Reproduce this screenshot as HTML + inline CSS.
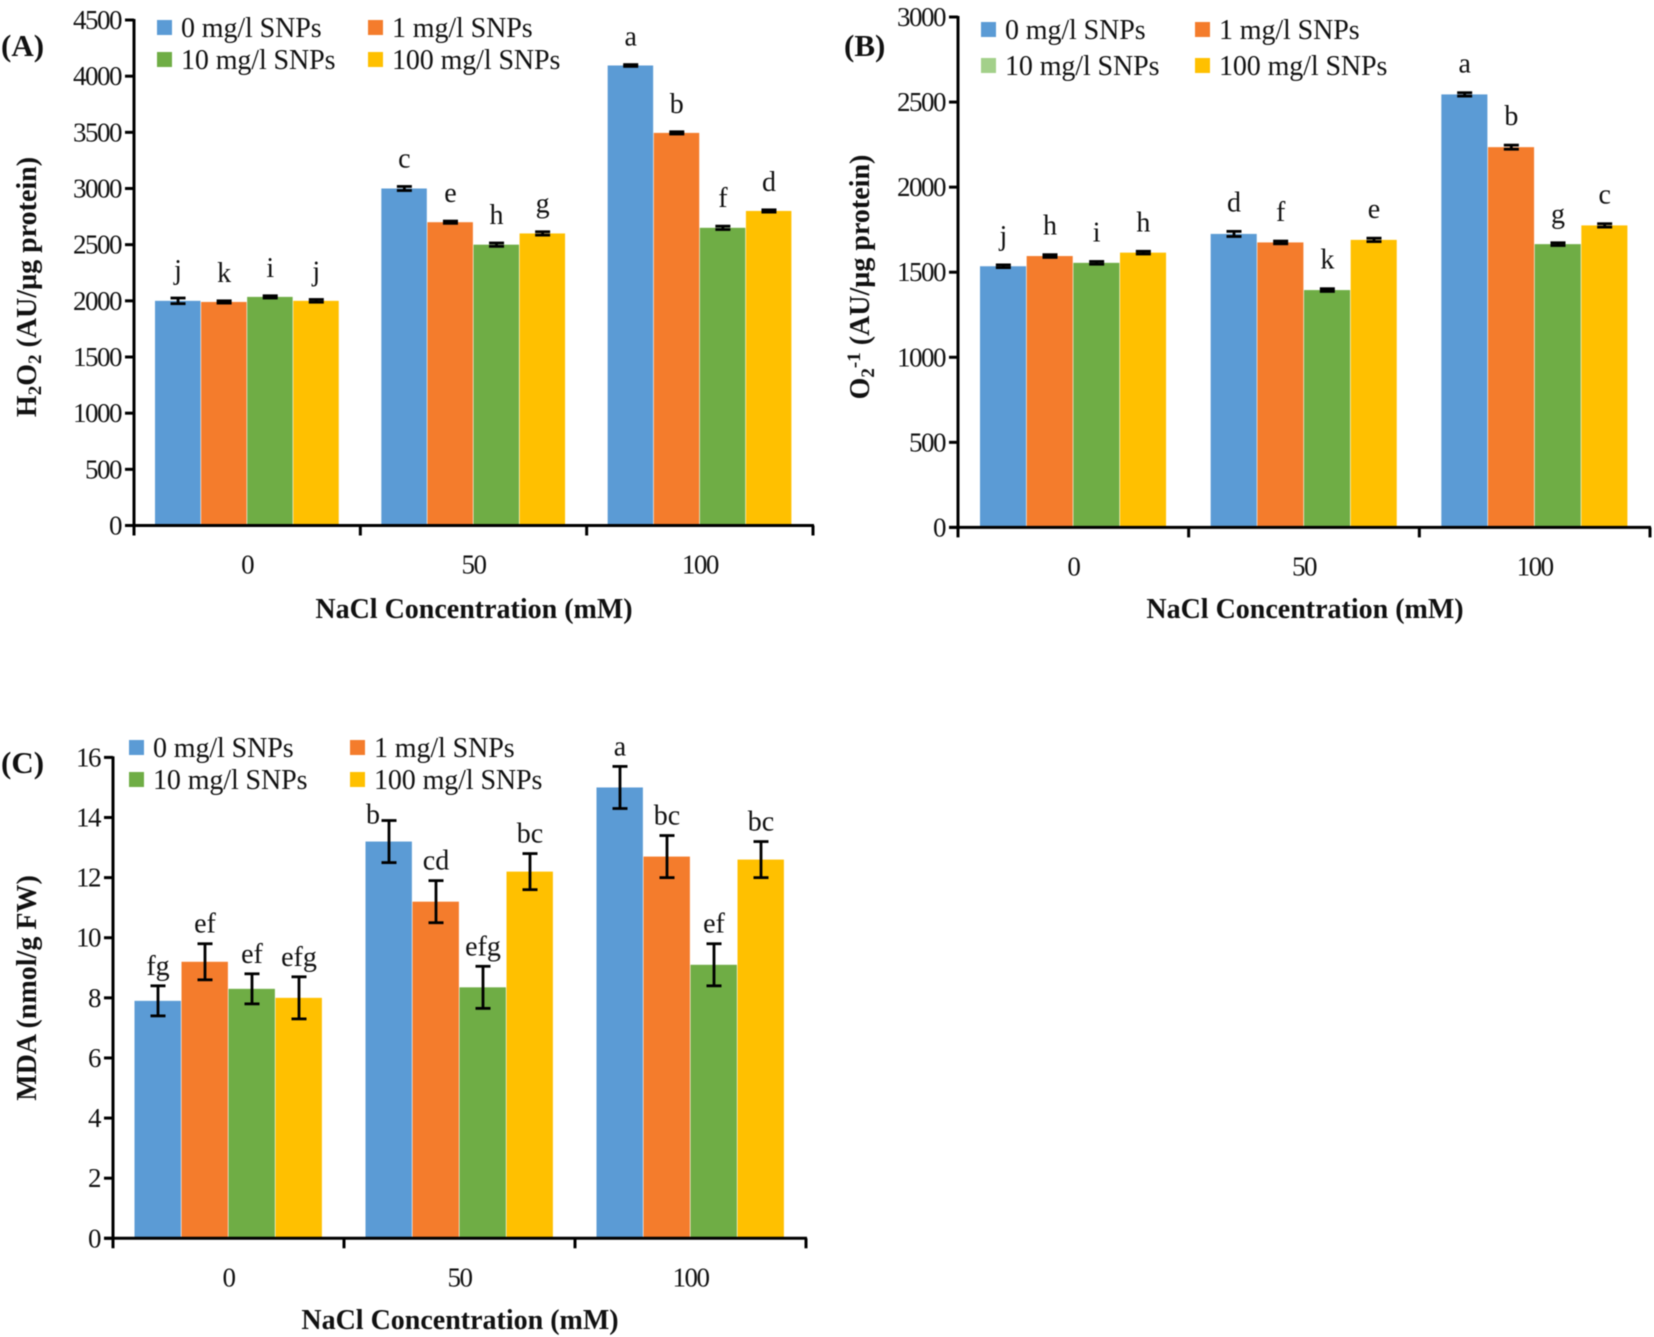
<!DOCTYPE html>
<html lang="en">
<head>
<meta charset="utf-8">
<title>Effects of SNPs and NaCl on H2O2, O2-1 and MDA</title>
<style>
html,body{margin:0;padding:0;background:#fff;width:1654px;height:1337px;overflow:hidden}
svg{display:block;filter:blur(.5px)}
text{font-family:"Liberation Serif",serif;fill:#111}
.tick{font-size:27px;letter-spacing:-1.5px}
.leg{font-size:28px;letter-spacing:-.1px}
.let{font-size:28px}
.title{font-size:28px;font-weight:bold}
.panel{font-size:31px;font-weight:bold}
</style>
</head>
<body>
<svg id="figure" xmlns="http://www.w3.org/2000/svg" width="1654" height="1337" viewBox="0 0 1654 1337"></svg>
<script>
const categories = ['0', '50', '100'];
const seriesNames = ['0 mg/l SNPs', '1 mg/l SNPs', '10 mg/l SNPs', '100 mg/l SNPs'];

const aTicks = ['0','500','1000','1500','2000','2500','3000','3500','4000','4500'];
const aValues0 = [2000, 3000, 4095];
const aValues1 = [1990, 2700, 3495];
const aValues10 = [2035, 2500, 2650];
const aValues100 = [2000, 2600, 2800];
const aErrors0 = [25, 18, 8];
const aErrors1 = [10, 10, 10];
const aErrors10 = [10, 15, 15];
const aErrors100 = [12, 15, 10];
const aLetters0 = ['j', 'c', 'a'];
const aLetters1 = ['k', 'e', 'b'];
const aLetters10 = ['i', 'h', 'f'];
const aLetters100 = ['j', 'g', 'd'];

const bTicks = ['0','500','1000','1500','2000','2500','3000'];
const bValues0 = [1535, 1725, 2545];
const bValues1 = [1595, 1675, 2235];
const bValues10 = [1555, 1395, 1665];
const bValues100 = [1615, 1690, 1775];
const bErrors0 = [8, 15, 10];
const bErrors1 = [8, 8, 12];
const bErrors10 = [8, 8, 8];
const bErrors100 = [8, 10, 10];
const bLetters0 = ['j', 'd', 'a'];
const bLetters1 = ['h', 'f', 'b'];
const bLetters10 = ['i', 'k', 'g'];
const bLetters100 = ['h', 'e', 'c'];

const cTicks = ['0','2','4','6','8','10','12','14','16'];
const cValues0 = [7.9, 13.2, 15];
const cValues1 = [9.2, 11.2, 12.7];
const cValues10 = [8.3, 8.35, 9.1];
const cValues100 = [8.0, 12.2, 12.6];
const cErrors0 = [0.5, 0.7, 0.7];
const cErrors1 = [0.6, 0.7, 0.7];
const cErrors10 = [0.5, 0.7, 0.7];
const cErrors100 = [0.7, 0.6, 0.6];
const cLetters0 = ['fg', 'b', 'a'];
const cLetters1 = ['ef', 'cd', 'bc'];
const cLetters10 = ['ef', 'efg', 'ef'];
const cLetters100 = ['efg', 'bc', 'bc'];

const svg = document.getElementById('figure');
const NS = 'http://www.w3.org/2000/svg';
const colors = ['#5b9bd5', '#f47c2c', '#6fad45', '#ffc000'];

function make(parent, tag, props, txt) {
  const el = document.createElementNS(NS, tag);
  for (const k in props) el.setAttribute(k, props[k]);
  if (txt !== undefined) el.textContent = txt;
  parent.appendChild(el);
  return el;
}

function drawPanel(p) {
  const g = make(svg, 'g', {});
  
  

  const maxV = parseFloat(p.ticks[p.ticks.length - 1]);
  const yOf = v => p.y0 - (v / maxV) * (p.y0 - p.yTop);
  const groupW = (p.x1 - p.x0) / categories.length;
  const barW = (groupW - 2 * p.pad) / seriesNames.length;
  const xOf = (c, s) => p.x0 + c * groupW + p.pad + s * barW;

  // bars
  p.values.forEach((series, s) => {
    series.forEach((v, c) => {
      const r = make(g, 'rect', {x: xOf(c, s), y: yOf(v), width: barW - 0.6, height: p.y0 - yOf(v), fill: colors[s]});
      
      
    });
  });

  // error bars & letters
  p.values.forEach((series, s) => {
    series.forEach((v, c) => {
      const cx = xOf(c, s) + barW / 2;
      const e = p.errors[s][c];
      const eg = make(g, 'g', {stroke: '#000', 'stroke-width': 2.8, fill: 'none'});
      
      
      make(eg, 'line', {x1: cx, x2: cx, y1: yOf(v + e), y2: yOf(v - e)});
      make(eg, 'line', {x1: cx - 7.5, x2: cx + 7.5, y1: yOf(v + e), y2: yOf(v + e)});
      make(eg, 'line', {x1: cx - 7.5, x2: cx + 7.5, y1: yOf(v - e), y2: yOf(v - e)});

      let dx = 0, dy = 0;
      if (p.id === 'c' && c === 1 && s === 0) { dx = -16; dy = 14; }
      const t = make(g, 'text', {class: 'let', x: cx + dx, y: yOf(v + e) - p.letGap + dy, 'text-anchor': 'middle'}, p.letters[s][c]);
      
      
    });
  });

  // axes
  const axis = make(g, 'g', {stroke: '#000', 'stroke-width': 3, fill: 'none'});
  
  
  make(axis, 'line', {x1: p.x0, x2: p.x0, y1: p.yTop - 1, y2: p.y0 + 10});
  make(axis, 'line', {x1: p.x0 - 9, x2: p.x1 + 1, y1: p.y0, y2: p.y0});

  p.ticks.forEach(tk => {
    const y = yOf(parseFloat(tk));
    make(axis, 'line', {x1: p.x0 - 9, x2: p.x0, y1: y, y2: y});
    const t = make(g, 'text', {class: 'tick', x: p.x0 - 13, y: y + 9, 'text-anchor': 'end'}, tk);
    
    
  });
  categories.forEach((cat, c) => {
    const xt = p.x0 + (c + 1) * groupW;
    make(axis, 'line', {x1: xt, x2: xt, y1: p.y0, y2: p.y0 + 10});
    const t = make(g, 'text', {class: 'tick', x: p.x0 + (c + 0.5) * groupW, y: p.y0 + 48, 'text-anchor': 'middle'}, cat);
    
    
  });

  // titles
  const xt = make(g, 'text', {class: 'title', x: p.xTitleX, y: p.xTitleY, 'text-anchor': 'middle'}, 'NaCl Concentration (mM)');
  
  

  const yt = make(g, 'text', {class: 'title', 'text-anchor': 'middle', transform: 'translate(' + p.yTitleX + ',' + p.yTitleY + ') rotate(-90)'});
  
  
  p.yParts.forEach(part => {
    const props = {};
    if (part[1]) { props['font-size'] = 19; props.dy = part[1]; }
    else if (part[2]) { props.dy = part[2]; }
    make(yt, 'tspan', props, part[0]);
  });

  const lb = make(g, 'text', {class: 'panel', x: p.panelX, y: p.panelY}, p.panelText);
  
  

  // legend
  seriesNames.forEach((nm, s) => {
    const lx = s % 2 === 0 ? p.legX[0] : p.legX[1];
    const ly = s < 2 ? p.legY[0] : p.legY[1];
    const lg = make(g, 'g', {});
    
    
    const swatchFill = (p.id === 'b' && s === 2) ? '#a3d08a' : colors[s];
    make(lg, 'rect', {x: lx, y: ly - 8, width: 15, height: 15, fill: swatchFill});
    make(lg, 'text', {class: 'leg', x: lx + 24, y: ly + 9}, nm);
  });
}

drawPanel({
  id: 'a', ticks: aTicks,
  values: [aValues0, aValues1, aValues10, aValues100],
  errors: [aErrors0, aErrors1, aErrors10, aErrors100],
  letters: [aLetters0, aLetters1, aLetters10, aLetters100],
  x0: 134, x1: 813, y0: 525.5, yTop: 20, pad: 21, letGap: 19,
  xTitleX: 474, xTitleY: 618, yTitleX: 36, yTitleY: 287,
  yParts: [['H'], ['2', 5], ['O', 0, -5], ['2', 5], [' (AU/µg protein)', 0, -5]],
  panelText: '(A)', panelX: 1, panelY: 56,
  legX: [157, 368], legY: [28, 60]
});

drawPanel({
  id: 'b', ticks: bTicks,
  values: [bValues0, bValues1, bValues10, bValues100],
  errors: [bErrors0, bErrors1, bErrors10, bErrors100],
  letters: [bLetters0, bLetters1, bLetters10, bLetters100],
  x0: 958, x1: 1650, y0: 527.4, yTop: 17, pad: 22, letGap: 20,
  xTitleX: 1305, xTitleY: 618, yTitleX: 869, yTitleY: 277,
  yParts: [['O'], ['2', 5], ['-1', -14], [' (AU/µg protein)', 0, 9]],
  panelText: '(B)', panelX: 844, panelY: 56,
  legX: [981, 1195], legY: [30, 66]
});

drawPanel({
  id: 'c', ticks: cTicks,
  values: [cValues0, cValues1, cValues10, cValues100],
  errors: [cErrors0, cErrors1, cErrors10, cErrors100],
  letters: [cLetters0, cLetters1, cLetters10, cLetters100],
  x0: 113, x1: 806, y0: 1238.3, yTop: 757.4, pad: 21.5, letGap: 11,
  xTitleX: 460, xTitleY: 1329, yTitleX: 36, yTitleY: 988,
  yParts: [['MDA (nmol/g FW)']],
  panelText: '(C)', panelX: 1, panelY: 773,
  legX: [129, 350], legY: [748, 780]
});
</script>
</body>
</html>
